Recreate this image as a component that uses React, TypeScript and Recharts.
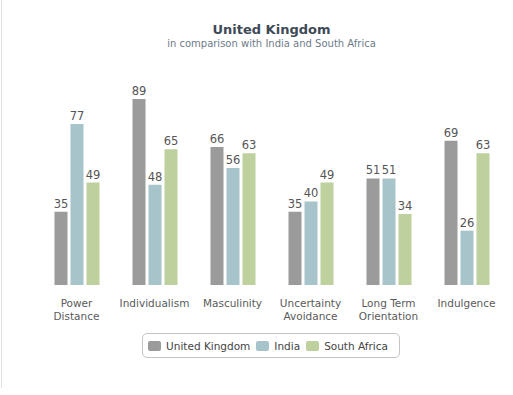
import React from 'react';
import { BarChart, Bar, XAxis, YAxis, LabelList } from 'recharts';

const categories = ['Power\nDistance', 'Individualism', 'Masculinity', 'Uncertainty\nAvoidance', 'Long Term\nOrientation', 'Indulgence'];
const unitedKingdom = [35, 89, 66, 35, 51, 69];
const india = [77, 48, 56, 40, 51, 26];
const southAfrica = [49, 65, 63, 49, 34, 63];

const series = [
  { key: 'uk', name: 'United Kingdom', color: '#9b9b9c' },
  { key: 'india', name: 'India', color: '#a8c4cb' },
  { key: 'sa', name: 'South Africa', color: '#bdd09e' },
];

const data = categories.map((name, i) => ({
  name,
  uk: unitedKingdom[i],
  india: india[i],
  sa: southAfrica[i],
}));

const FONT = '"DejaVu Sans", Verdana, sans-serif';

const CategoryTick = ({ x, y, payload }: any) => {
  const lines = String(payload.value).split('\n');
  return (
    <text x={x} y={y} textAnchor="middle" fill="#5a5a5a" fontSize={10.5} fontFamily={FONT}>
      {lines.map((l, i) => (
        <tspan key={i} x={x} dy={i === 0 ? 14 : 13}>{l}</tspan>
      ))}
    </text>
  );
};

const App = () => {
  return (
    <div style={{ position: 'relative', width: 513, height: 395, background: '#fff', fontFamily: FONT }}>
      <style>{`body{margin:0}`}</style>
      <div style={{ position: 'absolute', left: 1, top: 0, width: 1, height: 388, background: '#e2e2e2' }} />
      <div style={{ position: 'absolute', left: 0, width: 543, top: 22, textAlign: 'center', fontSize: 13, fontWeight: 'bold', color: '#3e4a56' }}>
        United Kingdom
      </div>
      <div style={{ position: 'absolute', left: 0, width: 543, top: 38, textAlign: 'center', fontSize: 10, color: '#6e7c8a' }}>
        in comparison with India and South Africa
      </div>
      <BarChart
        width={513}
        height={395}
        data={data}
        margin={{ top: 76, right: 7.5, left: 37.5, bottom: 70 }}
        barCategoryGap={17}
        barGap={3}
      >
        <YAxis hide domain={[0, 100]} />
        <XAxis dataKey="name" axisLine={false} tickLine={false} height={40} interval={0} tick={<CategoryTick />} />
        {series.map((s) => (
          <Bar key={s.key} dataKey={s.key} name={s.name} fill={s.color} isAnimationActive={false}>
            <LabelList dataKey={s.key} position="top" offset={4} fill="#555" fontSize={11.5} fontFamily={FONT} />
          </Bar>
        ))}
      </BarChart>
      <div
        style={{
          position: 'absolute', left: 142, top: 333, width: 256, height: 23,
          border: '1px solid #c4c4c4', borderRadius: 5, display: 'flex', alignItems: 'center',
          justifyContent: 'center', fontSize: 10.5, color: '#444',
        }}
      >
        {series.map((s) => (
          <span key={s.key} style={{ display: 'flex', alignItems: 'center', marginRight: 6 }}>
            <span style={{ width: 13, height: 10, background: s.color, borderRadius: 2, marginRight: 5 }} />
            {s.name}
          </span>
        ))}
      </div>
    </div>
  );
};

export default App;
